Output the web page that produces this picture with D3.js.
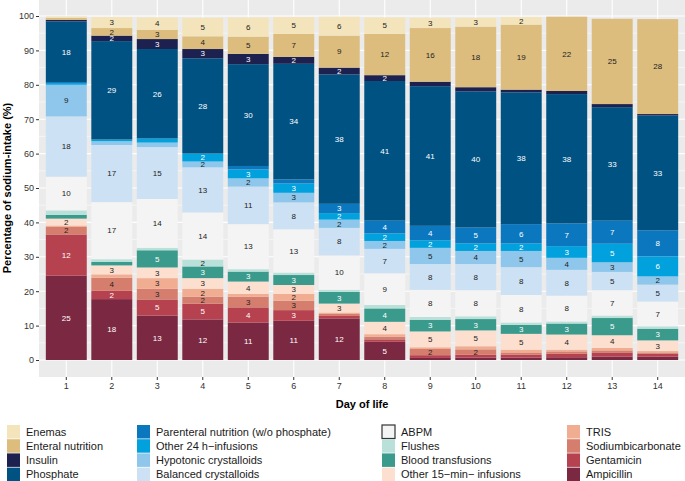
<!DOCTYPE html>
<html><head><meta charset="utf-8">
<script src="https://cdn.jsdelivr.net/npm/d3@7"></script>
<style>body{margin:0;background:#fff}svg{display:block;font-family:"Liberation Sans",Arial,sans-serif}</style>
</head><body><svg id="c" width="685" height="481"></svg>
<script>
const days = [1,2,3,4,5,6,7,8,9,10,11,12,13,14];
const yTicks = [0,10,20,30,40,50,60,70,80,90,100];
// values (% of sodium intake) per day 1..14
const ampicillin      = [24.5,17.7,12.9,11.8,10.9,11.4,12.1,5.3,0.6,0.7,0.7,0.8,1.0,1.0];
const gentamicin      = [12.0,2.4,4.7,4.6,4.4,3.1,0.7,0.7,0.8,0.8,0.8,1.0,1.2,0.8];
const sodiumbicarb    = [2.2,3.8,3.1,2.0,3.1,2.7,0.6,0.8,1.8,1.6,0.7,0.7,0.6,0.4];
const tris            = [0.4,1.0,3.1,2.3,0.8,2.0,0.4,0.7,0.5,0.9,0.8,0.5,0.7,0.4];
const other15         = [2.0,2.6,3.1,3.1,3.6,2.6,2.6,3.6,4.6,4.6,4.6,4.4,3.7,3.1];
const bloodTransf     = [1.1,1.0,5.0,3.4,2.9,2.9,3.4,3.9,3.4,3.3,2.6,3.2,5.0,3.4];
const flushes         = [1.3,0.8,0.7,2.0,0.7,0.7,0.6,1.0,0.8,0.8,0.7,0.6,0.7,0.7];
const abpm            = [9.8,16.6,14.2,13.7,13.1,12.6,10.0,9.2,7.9,7.6,8.0,7.5,7.4,7.2];
const balanced        = [17.5,16.6,15.1,13.1,10.9,7.8,8.0,7.1,7.5,7.6,8.1,7.5,5.3,4.9];
const hypotonic       = [9.2,1.1,1.3,1.7,2.4,2.8,2.4,2.3,4.7,3.8,4.7,3.5,2.8,2.4];
const other24         = [0.5,0.5,1.2,2.3,2.6,2.7,1.9,2.2,2.2,2.2,2.2,3.4,5.4,5.8];
const parenteral      = [0.3,0.0,0.0,0.0,1.0,1.2,2.7,3.7,4.2,4.6,5.6,6.6,6.7,7.6];
const phosphate       = [17.6,28.6,26.0,27.7,29.6,33.6,37.6,40.6,40.6,39.6,38.3,37.6,33.0,33.4];
const insulin         = [0.5,1.6,2.9,2.7,3.0,2.0,2.0,1.7,1.3,1.2,0.8,0.9,0.9,0.4];
const enteral         = [0.6,2.2,2.7,3.7,5.0,6.7,9.3,12.0,15.6,17.6,18.9,21.6,24.8,27.6];
const enemas          = [0.4,3.2,3.6,5.4,5.6,4.9,5.5,4.8,3.0,2.6,2.2,0.0,0.0,0.0];

const seriesNames = ["Ampicillin","Gentamicin","Sodiumbicarbonate","TRIS","Other 15\u2212min\u2212 infusions","Blood transfusions","Flushes","ABPM","Balanced crystalloids","Hypotonic crystalloids","Other 24 h\u2212infusions","Parenteral nutrition (w/o phosphate)","Phosphate","Insulin","Enteral nutrition","Enemas"];
const seriesValues = [ampicillin,gentamicin,sodiumbicarb,tris,other15,bloodTransf,flushes,abpm,balanced,hypotonic,other24,parenteral,phosphate,insulin,enteral,enemas];
const seriesColors = ["#7B2842","#B6414F","#D67E6D","#F0AD92","#FDDFCF","#3A9A8C","#B9E1DA","#F4F4F4","#CCE1F3","#8EC7EB","#00A1DC","#0B77BF","#005283","#1C2150","#DCBD7E","#F3E4BC"];
const labelWhite = [true,true,false,false,false,true,false,false,false,false,true,true,true,true,false,false];
const legendColumns = [
  ["Enemas","Enteral nutrition","Insulin","Phosphate"],
  ["Parenteral nutrition (w/o phosphate)","Other 24 h\u2212infusions","Hypotonic crystalloids","Balanced crystalloids"],
  ["ABPM","Flushes","Blood transfusions","Other 15\u2212min\u2212 infusions"],
  ["TRIS","Sodiumbicarbonate","Gentamicin","Ampicillin"]
];

const rows = days.map((d,i)=>{const o={day:d}; seriesNames.forEach((s,j)=>o[s]=seriesValues[j][i]); return o;});
const stack = d3.stack().keys(seriesNames)(rows);
const color = d3.scaleOrdinal().domain(seriesNames).range(seriesColors);

const svg = d3.select("#c");
const L=39, R=685, T=0, B=377;
const x = d3.scaleBand().domain(days).range([L,R]).paddingInner(0.1).paddingOuter(0.15);
const y = d3.scaleLinear().domain([-5,105]).range([377.2,-1.2]);

svg.append("rect").attr("x",L).attr("y",T).attr("width",R-L).attr("height",B-T).attr("fill","#EBEBEB");
const minor = d3.range(5,105,10);
svg.append("g").selectAll("line").data(minor).join("line")
  .attr("x1",L).attr("x2",R).attr("y1",d=>y(d)).attr("y2",d=>y(d)).attr("stroke","#fff").attr("stroke-width",0.5);
svg.append("g").selectAll("line").data(yTicks).join("line")
  .attr("x1",L).attr("x2",R).attr("y1",d=>y(d)).attr("y2",d=>y(d)).attr("stroke","#fff").attr("stroke-width",1.1);
svg.append("g").selectAll("line").data(days).join("line")
  .attr("x1",d=>x(d)+x.bandwidth()/2).attr("x2",d=>x(d)+x.bandwidth()/2).attr("y1",T).attr("y2",B).attr("stroke","#fff").attr("stroke-width",1.1);

const gS = svg.append("g");
stack.forEach((layer,j)=>{
  gS.append("g").selectAll("rect").data(layer).join("rect")
    .attr("x",d=>x(d.data.day)).attr("width",x.bandwidth())
    .attr("y",d=>y(d[1])).attr("height",d=>Math.max(0,y(d[0])-y(d[1])))
    .attr("fill",color(layer.key));
});
stack.forEach((layer,j)=>{
  const vals = seriesValues[j];
  gS.append("g").selectAll("text").data(layer.map((d,i)=>({d,v:vals[i]})).filter(o=>Math.round(o.v)>=2)).join("text")
    .attr("x",o=>x(o.d.data.day)+x.bandwidth()/2).attr("y",o=>y((o.d[0]+o.d[1])/2))
    .attr("dy","0.35em").attr("text-anchor","middle").attr("font-size",8)
    .attr("fill",labelWhite[j]?"#fff":"#222")
    .text(o=>Math.round(o.v));
});

// axes
const ya = svg.append("g").attr("transform",`translate(${L},0)`).call(d3.axisLeft(y).tickValues(yTicks).tickSize(3).tickPadding(2));
const xa = svg.append("g").attr("transform",`translate(0,${B})`).call(d3.axisBottom(x).tickSize(3).tickPadding(3));
[ya,xa].forEach(a=>{a.select(".domain").remove(); a.selectAll("line").attr("stroke","#333"); a.selectAll("text").attr("fill","#333").attr("font-size",9).attr("font-family","Liberation Sans, Arial, sans-serif");});

svg.append("text").attr("x",(L+R)/2).attr("y",408).attr("text-anchor","middle").attr("font-size",11).attr("font-weight","bold").text("Day of life");
svg.append("text").attr("transform","translate(11,188) rotate(-90)").attr("text-anchor","middle").attr("font-size",11).attr("font-weight","bold").text("Percentage of sodium-intake (%)");

// legend
const colX = [7,137,382,567];
const lg = svg.append("g");
legendColumns.forEach((col,ci)=>{
  col.forEach((name,ri)=>{
    const yy = 425 + ri*14.2;
    lg.append("rect").attr("x",colX[ci]).attr("y",yy).attr("width",13).attr("height",13.5)
      .attr("fill",color(name)).attr("stroke",name==="ABPM"?"#333":"none").attr("stroke-width",name==="ABPM"?1.2:0);
    lg.append("text").attr("x",colX[ci]+19).attr("y",yy+7).attr("dy","0.35em").attr("font-size",11).attr("fill","#1a1a1a").text(name);
  });
});
</script></body></html>
